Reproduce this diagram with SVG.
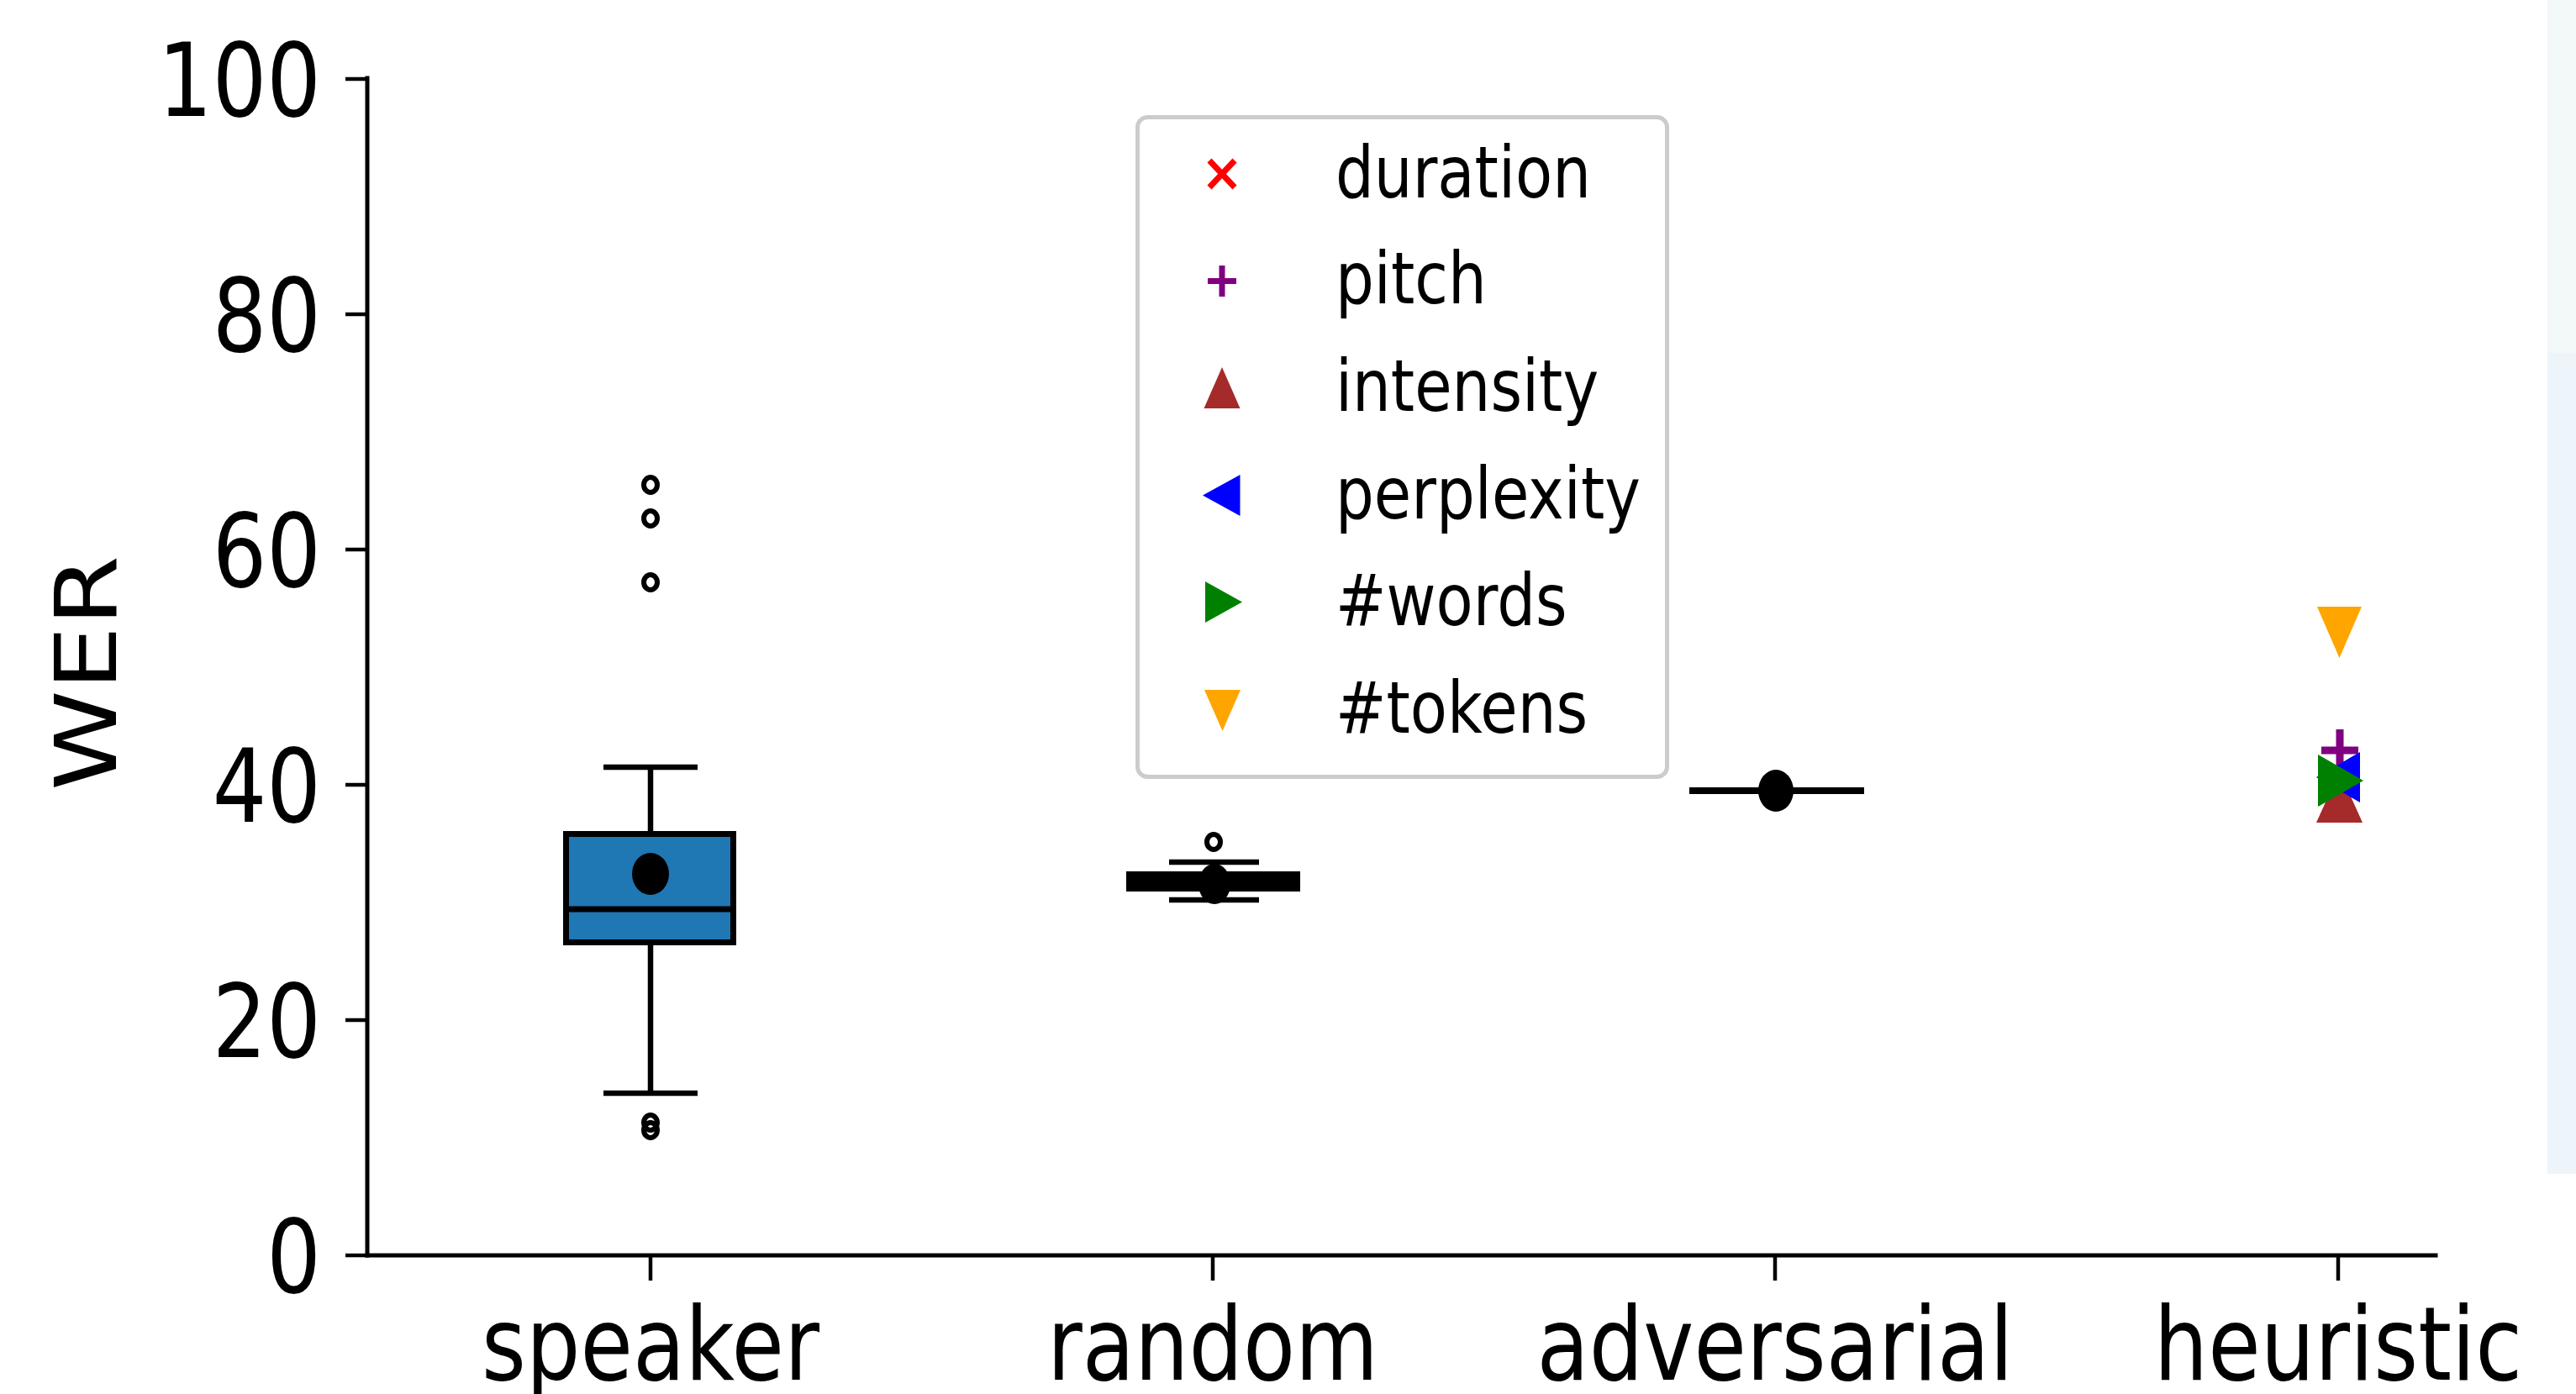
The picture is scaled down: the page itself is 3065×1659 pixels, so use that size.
<svg xmlns="http://www.w3.org/2000/svg" width="3065" height="1659" viewBox="0 0 3065 1659">
<style>
text{font-family:"DejaVu Sans","Liberation Sans",sans-serif;fill:#000}
.tick{font-size:121px}
.leg{font-size:86px}
.ax{stroke:#000;stroke-width:5;fill:none;stroke-linecap:square}
.tk{stroke:#000;stroke-width:4.5;fill:none}
.wl{stroke:#000;stroke-width:6.5;fill:none}
.fl{fill:none;stroke:#000;stroke-width:6}
</style>
<rect x="0" y="0" width="3065" height="1659" fill="#ffffff"/>
<g id="side-strip">
<rect x="3031" y="0" width="34" height="420" fill="#f3f8f8"/>
<rect x="3031" y="420" width="34" height="977" fill="#edf5fa"/>
</g>
<g id="axes">
<line class="ax" x1="437" y1="93" x2="437" y2="1494"/>
<line class="ax" x1="437" y1="1494" x2="2898" y2="1494"/>
<g id="yticks">
<line class="tk" x1="411" y1="94" x2="437" y2="94"/>
<line class="tk" x1="411" y1="374" x2="437" y2="374"/>
<line class="tk" x1="411" y1="654" x2="437" y2="654"/>
<line class="tk" x1="411" y1="934" x2="437" y2="934"/>
<line class="tk" x1="411" y1="1214" x2="437" y2="1214"/>
<line class="tk" x1="411" y1="1494" x2="437" y2="1494"/>
<text class="tick" text-anchor="end" transform="translate(382,138) scale(0.84,1)">100</text>
<text class="tick" text-anchor="end" transform="translate(382,418) scale(0.84,1)">80</text>
<text class="tick" text-anchor="end" transform="translate(382,698) scale(0.84,1)">60</text>
<text class="tick" text-anchor="end" transform="translate(382,978) scale(0.84,1)">40</text>
<text class="tick" text-anchor="end" transform="translate(382,1258) scale(0.84,1)">20</text>
<text class="tick" text-anchor="end" transform="translate(382,1538) scale(0.84,1)">0</text>
</g>
<g id="xticks">
<line class="tk" x1="774" y1="1494" x2="774" y2="1524"/>
<line class="tk" x1="1443" y1="1494" x2="1443" y2="1524"/>
<line class="tk" x1="2112" y1="1494" x2="2112" y2="1524"/>
<line class="tk" x1="2782" y1="1494" x2="2782" y2="1524"/>
<text class="tick" text-anchor="middle" transform="translate(774,1642) scale(0.84,1)">speaker</text>
<text class="tick" text-anchor="middle" transform="translate(1443,1642) scale(0.84,1)">random</text>
<text class="tick" text-anchor="middle" transform="translate(2112,1642) scale(0.84,1)">adversarial</text>
<text class="tick" text-anchor="middle" transform="translate(2782,1642) scale(0.84,1)">heuristic</text>
</g>
<text class="tick" text-anchor="middle" transform="translate(138,801) rotate(-90) scale(1,0.84)">WER</text>
</g>
<g id="box-speaker">
<line class="wl" x1="774" y1="913" x2="774" y2="992"/>
<line class="wl" x1="774" y1="1122" x2="774" y2="1301"/>
<line class="wl" x1="718" y1="913" x2="830" y2="913"/>
<line class="wl" x1="718" y1="1301" x2="830" y2="1301"/>
<rect x="673.5" y="992.5" width="199" height="129" fill="#1f77b4" stroke="#000" stroke-width="7"/>
<line stroke="#000" stroke-width="7" x1="673" y1="1082" x2="873" y2="1082"/>
<ellipse cx="774" cy="1040" rx="22" ry="25" fill="#000"/>
<ellipse class="fl" cx="774" cy="577" rx="8" ry="9"/>
<ellipse class="fl" cx="774" cy="617" rx="8" ry="9"/>
<ellipse class="fl" cx="774" cy="693" rx="8" ry="9"/>
<ellipse class="fl" cx="774" cy="1336" rx="8" ry="9"/>
<ellipse class="fl" cx="774" cy="1345" rx="8" ry="9"/>
</g>
<g id="box-random">
<line class="wl" x1="1443" y1="1026" x2="1443" y2="1071"/>
<line class="wl" x1="1391" y1="1026" x2="1498" y2="1026"/>
<line class="wl" x1="1391" y1="1071" x2="1498" y2="1071"/>
<rect x="1340" y="1037" width="207" height="24" fill="#000"/>
<ellipse cx="1445" cy="1052" rx="19" ry="24" fill="#000"/>
<ellipse class="fl" cx="1444" cy="1002" rx="8" ry="9"/>
</g>
<g id="box-adversarial">
<line stroke="#000" stroke-width="8" x1="2010" y1="941" x2="2218" y2="941"/>
<ellipse cx="2113" cy="941" rx="21" ry="25" fill="#000"/>
</g>
<g id="points-heuristic">
<path d="M2762 893H2806M2784 868V918" stroke="#800080" stroke-width="9" fill="none"/>
<polygon points="2756,979 2811,979 2783.5,918" fill="#a52a2a"/>
<polygon points="2808,895 2808,955 2756,925" fill="#0000ff"/>
<polygon points="2758,898 2758,960 2812,929" fill="#008000"/>
<polygon points="2757,722 2810,722 2783.5,783" fill="#ffa500"/>
</g>
<g id="legend">
<rect x="1353.5" y="139.5" width="630" height="785" rx="12" ry="12" fill="#ffffff" fill-opacity="0.8" stroke="#cccccc" stroke-width="5"/>
<path d="M1439 191L1469 223M1469 191L1439 223" stroke="#ff0000" stroke-width="7" fill="none"/>
<path d="M1437 334.5H1471M1454 316V353" stroke="#800080" stroke-width="7" fill="none"/>
<polygon points="1432.5,486 1475.5,486 1454,437" fill="#a52a2a"/>
<polygon points="1475.5,565 1475.5,614 1431,589.5" fill="#0000ff"/>
<polygon points="1434,692 1434,741 1478,716.5" fill="#008000"/>
<polygon points="1433,821 1476,821 1454.5,870" fill="#ffa500"/>
<text class="leg" transform="translate(1589,235) scale(0.84,1)">duration</text>
<text class="leg" transform="translate(1589,361) scale(0.84,1)">pitch</text>
<text class="leg" transform="translate(1589,489) scale(0.84,1)">intensity</text>
<text class="leg" transform="translate(1589,617) scale(0.84,1)">perplexity</text>
<text class="leg" transform="translate(1589,744) scale(0.84,1)">#words</text>
<text class="leg" transform="translate(1589,872) scale(0.84,1)">#tokens</text>
</g>
</svg>
